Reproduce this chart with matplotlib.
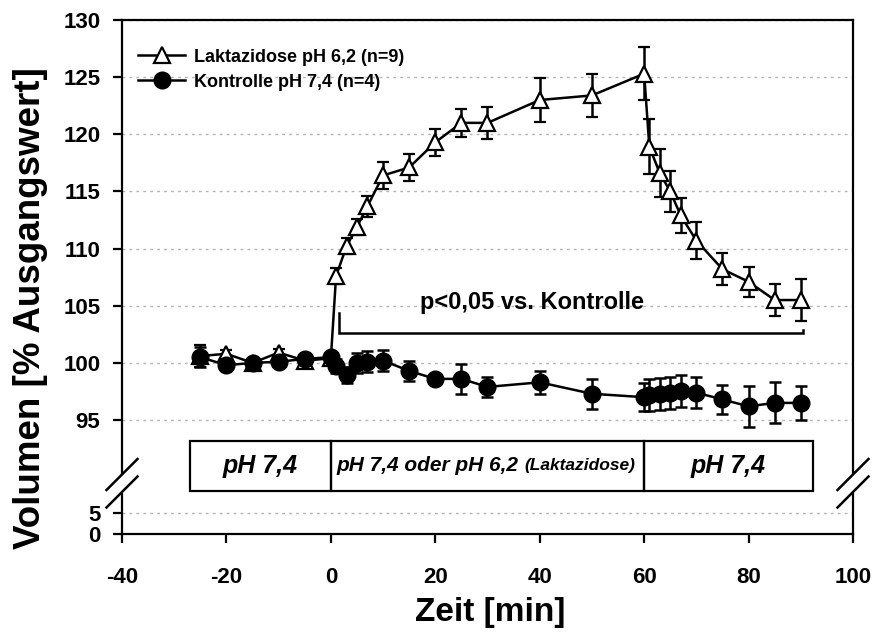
import matplotlib
matplotlib.use("Agg")
import matplotlib.pyplot as plt
from matplotlib.patches import Rectangle
from matplotlib.lines import Line2D

plt.rcParams['font.family'] = ['Liberation Sans', 'DejaVu Sans']
plt.rcParams['font.weight'] = 'bold'
plt.rcParams['axes.unicode_minus'] = False

# time points [min]
zeit = [-25, -20, -15, -10, -5, 0, 1, 3, 5, 7, 10, 15, 20, 25, 30, 40, 50,
        60, 61, 63, 65, 67, 70, 75, 80, 85, 90]

# Laktazidose pH 6,2 (n=9)
lakt = [100.6, 100.8, 100.0, 100.9, 100.2, 100.4, 107.6, 110.2, 111.9, 113.7,
        116.4, 117.1, 119.3, 121.0, 121.0, 123.0, 123.4, 125.3, 118.9, 116.6,
        115.0, 112.9, 110.7, 108.2, 107.1, 105.5, 105.5]
lakt_err = [1.0, 0.3, 0.3, 0.3, 0.3, 0.3, 0.7, 0.7, 0.7, 0.9, 1.2, 1.2, 1.2,
            1.25, 1.4, 1.9, 1.9, 2.3, 2.4, 2.1, 1.8, 1.5, 1.6, 1.4, 1.3, 1.4, 1.8]

# Kontrolle pH 7,4 (n=4)
kontr = [100.5, 99.8, 100.0, 100.1, 100.35, 100.5, 99.7, 98.9, 100.0, 100.1,
         100.2, 99.3, 98.6, 98.6, 97.9, 98.3, 97.3, 97.0, 97.2, 97.3, 97.4,
         97.5, 97.4, 96.8, 96.2, 96.5, 96.5]
kontr_err = [0.9, 0.3, 0.3, 0.3, 0.3, 0.3, 0.6, 0.7, 0.9, 0.9, 0.9, 0.9, 0.3,
             1.3, 0.9, 1.0, 1.3, 1.2, 1.4, 1.4, 1.4, 1.4, 1.35, 1.25, 1.8, 1.8, 1.5]

# perfusion periods shown in the box
perioden = [(-27, 0, 'pH 7,4'), (0, 60, 'pH 7,4 oder pH 6,2 '), (60, 92.3, 'pH 7,4')]

W, H = 878, 639
fig = plt.figure(figsize=(W / 100, H / 100), dpi=100)


def fr(x0, y0, x1, y1):
    return [x0 / W, 1 - y1 / H, (x1 - x0) / W, (y1 - y0) / H]


ax = fig.add_axes(fr(122, 20, 853, 474))
axb = fig.add_axes(fr(122, 494, 853, 534), sharex=ax)

grid_kw = dict(color='#b5b5b5', linestyle=(0, (2, 3)), linewidth=1)
for a in (ax, axb):
    a.yaxis.grid(True, **grid_kw)
    a.set_axisbelow(True)
    for s in a.spines.values():
        s.set_linewidth(1.6)
    a.tick_params(axis='both', direction='out', width=1.6, length=6.5,
                  labelsize=16)
    a.tick_params(axis='y', pad=9)

ax.set_ylim(90.28, 130)
ax.set_yticks(range(95, 131, 5))
ax.spines['bottom'].set_visible(False)
ax.tick_params(axis='x', bottom=False, labelbottom=False)

axb.set_ylim(0, 9.5)
axb.set_yticks([0, 5])
axb.spines['top'].set_visible(False)
axb.set_xlim(-40, 100)
axb.set_xticks(range(-40, 101, 20))
axb.tick_params(axis='x', pad=17)

lw = 1.8
ax.errorbar(zeit, lakt, yerr=lakt_err, color='black', lw=lw, marker='^',
            ms=11, mfc='white', mec='black', mew=1.6, capsize=4.5,
            capthick=lw, elinewidth=lw, zorder=3)
ax.errorbar(zeit, kontr, yerr=kontr_err, color='black', lw=lw, marker='o',
            ms=12, mfc='black', mec='black', capsize=4.5, capthick=lw,
            elinewidth=lw, zorder=4)

handles = [Line2D([], [], color='black', lw=lw, marker='^', ms=11,
                  mfc='white', mec='black', mew=1.6),
           Line2D([], [], color='black', lw=lw, marker='o', ms=12,
                  mfc='black', mec='black')]
ax.legend(handles, ['Laktazidose pH 6,2 (n=9)', 'Kontrolle pH 7,4 (n=4)'],
          loc='upper left', frameon=False, fontsize=13,
          handlelength=2.6, handletextpad=0.5, borderaxespad=0.3,
          labelspacing=0.45, bbox_to_anchor=(0.005, 0.965))

# significance bracket
ax.plot([1.6, 1.6, 90.4, 90.4], [104.4, 102.6, 102.6, 102.9], color='black',
        lw=1.8, solid_joinstyle='miter')
ax.text(38.5, 105.3, 'p<0,05 vs. Kontrolle', ha='center', va='center',
        fontsize=17, fontweight='bold')

# period box
y_lo, y_hi = 88.79, 93.2
for x0, x1, lab in perioden:
    ax.add_patch(Rectangle((x0, y_lo), x1 - x0, y_hi - y_lo, fill=False,
                           ec='black', lw=1.6, clip_on=False, zorder=5))
    xc = (x0 + x1) / 2
    if lab.startswith('pH 7,4 oder'):
        t = ax.text(x0 + 1.1, (y_lo + y_hi) / 2, lab, ha='left', va='center',
                    fontsize=15, fontstyle='italic', fontweight='bold')
        ax.annotate('(Laktazidose)', xy=(1, 0), xycoords=t,
                    xytext=(0, 1.5), textcoords='offset points', ha='left',
                    va='bottom', fontsize=12.5, fontstyle='italic',
                    fontweight='bold')
    else:
        ax.text(xc, (y_lo + y_hi) / 2, lab, ha='center', va='center',
                fontsize=18, fontstyle='italic', fontweight='bold')

# axis break marks
for xp in (122, 853):
    for yp in (474.5, 492):
        fig.add_artist(Line2D([(xp - 15.5) / W, (xp + 15.5) / W],
                              [1 - (yp + 15.5) / H, 1 - (yp - 15.5) / H],
                              color='black', lw=1.8,
                              transform=fig.transFigure))

fig.text(31 / W, 1 - 308 / H, 'Volumen [% Ausgangswert]', rotation=90,
         ha='center', va='center', fontsize=26.5, fontweight='bold')
fig.text(490 / W, 1 - 612 / H, 'Zeit [min]', ha='center', va='center',
         fontsize=24, fontweight='bold')

fig.savefig('out.png', dpi=100)
